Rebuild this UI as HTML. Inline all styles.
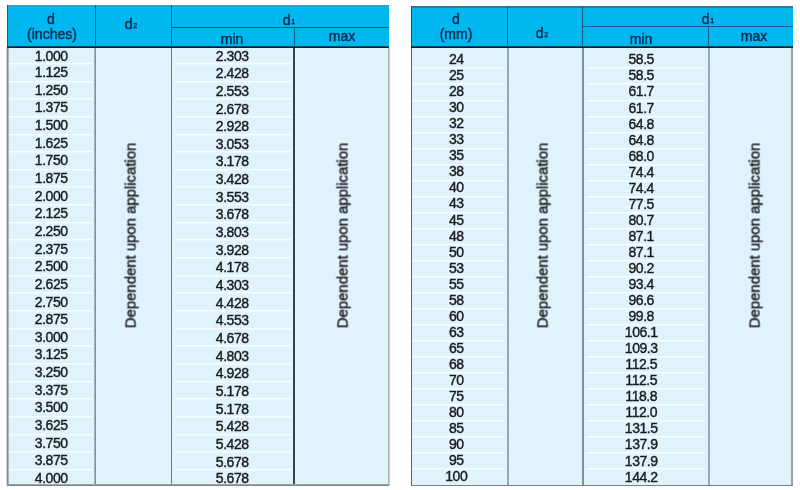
<!DOCTYPE html>
<html><head><meta charset="utf-8"><style>
html,body{margin:0;padding:0;background:#fff;width:800px;height:490px;overflow:hidden}
body{position:relative;font-family:'Liberation Sans', Arial, sans-serif}
div{position:absolute;box-sizing:border-box}
.t{will-change:transform;white-space:nowrap;text-align:center;line-height:1;-webkit-text-stroke:0.4px currentColor}
.h{-webkit-text-stroke:0.4px currentColor}
</style></head><body>
<div style="left:7px;top:5px;width:382px;height:42px;background:#01b7f0"></div>
<div style="left:7px;top:5px;width:382px;height:1px;background:#5f8fa3"></div>
<div style="left:7px;top:48px;width:382px;height:437px;background:#e0f3fd"></div>
<div style="left:9px;top:63px;width:84px;height:1px;background:#fbfeff"></div>
<div style="left:175px;top:63px;width:116px;height:1px;background:#fbfeff"></div>
<div style="left:9px;top:64px;width:84px;height:1px;background:#ebf7fe"></div>
<div style="left:175px;top:64px;width:116px;height:1px;background:#ebf7fe"></div>
<div style="left:9px;top:81px;width:84px;height:1px;background:#fbfeff"></div>
<div style="left:175px;top:81px;width:116px;height:1px;background:#fbfeff"></div>
<div style="left:9px;top:82px;width:84px;height:1px;background:#ebf7fe"></div>
<div style="left:175px;top:82px;width:116px;height:1px;background:#ebf7fe"></div>
<div style="left:9px;top:98px;width:84px;height:1px;background:#fbfeff"></div>
<div style="left:175px;top:98px;width:116px;height:1px;background:#fbfeff"></div>
<div style="left:9px;top:99px;width:84px;height:1px;background:#ebf7fe"></div>
<div style="left:175px;top:99px;width:116px;height:1px;background:#ebf7fe"></div>
<div style="left:9px;top:116px;width:84px;height:1px;background:#fbfeff"></div>
<div style="left:175px;top:116px;width:116px;height:1px;background:#fbfeff"></div>
<div style="left:9px;top:117px;width:84px;height:1px;background:#ebf7fe"></div>
<div style="left:175px;top:117px;width:116px;height:1px;background:#ebf7fe"></div>
<div style="left:9px;top:134px;width:84px;height:1px;background:#fbfeff"></div>
<div style="left:175px;top:134px;width:116px;height:1px;background:#fbfeff"></div>
<div style="left:9px;top:135px;width:84px;height:1px;background:#ebf7fe"></div>
<div style="left:175px;top:135px;width:116px;height:1px;background:#ebf7fe"></div>
<div style="left:9px;top:151px;width:84px;height:1px;background:#fbfeff"></div>
<div style="left:175px;top:151px;width:116px;height:1px;background:#fbfeff"></div>
<div style="left:9px;top:152px;width:84px;height:1px;background:#ebf7fe"></div>
<div style="left:175px;top:152px;width:116px;height:1px;background:#ebf7fe"></div>
<div style="left:9px;top:169px;width:84px;height:1px;background:#fbfeff"></div>
<div style="left:175px;top:169px;width:116px;height:1px;background:#fbfeff"></div>
<div style="left:9px;top:170px;width:84px;height:1px;background:#ebf7fe"></div>
<div style="left:175px;top:170px;width:116px;height:1px;background:#ebf7fe"></div>
<div style="left:9px;top:186px;width:84px;height:1px;background:#fbfeff"></div>
<div style="left:175px;top:186px;width:116px;height:1px;background:#fbfeff"></div>
<div style="left:9px;top:187px;width:84px;height:1px;background:#ebf7fe"></div>
<div style="left:175px;top:187px;width:116px;height:1px;background:#ebf7fe"></div>
<div style="left:9px;top:204px;width:84px;height:1px;background:#fbfeff"></div>
<div style="left:175px;top:204px;width:116px;height:1px;background:#fbfeff"></div>
<div style="left:9px;top:205px;width:84px;height:1px;background:#ebf7fe"></div>
<div style="left:175px;top:205px;width:116px;height:1px;background:#ebf7fe"></div>
<div style="left:9px;top:222px;width:84px;height:1px;background:#fbfeff"></div>
<div style="left:175px;top:222px;width:116px;height:1px;background:#fbfeff"></div>
<div style="left:9px;top:223px;width:84px;height:1px;background:#ebf7fe"></div>
<div style="left:175px;top:223px;width:116px;height:1px;background:#ebf7fe"></div>
<div style="left:9px;top:239px;width:84px;height:1px;background:#fbfeff"></div>
<div style="left:175px;top:239px;width:116px;height:1px;background:#fbfeff"></div>
<div style="left:9px;top:240px;width:84px;height:1px;background:#ebf7fe"></div>
<div style="left:175px;top:240px;width:116px;height:1px;background:#ebf7fe"></div>
<div style="left:9px;top:257px;width:84px;height:1px;background:#fbfeff"></div>
<div style="left:175px;top:257px;width:116px;height:1px;background:#fbfeff"></div>
<div style="left:9px;top:258px;width:84px;height:1px;background:#ebf7fe"></div>
<div style="left:175px;top:258px;width:116px;height:1px;background:#ebf7fe"></div>
<div style="left:9px;top:275px;width:84px;height:1px;background:#fbfeff"></div>
<div style="left:175px;top:275px;width:116px;height:1px;background:#fbfeff"></div>
<div style="left:9px;top:276px;width:84px;height:1px;background:#ebf7fe"></div>
<div style="left:175px;top:276px;width:116px;height:1px;background:#ebf7fe"></div>
<div style="left:9px;top:292px;width:84px;height:1px;background:#fbfeff"></div>
<div style="left:175px;top:292px;width:116px;height:1px;background:#fbfeff"></div>
<div style="left:9px;top:293px;width:84px;height:1px;background:#ebf7fe"></div>
<div style="left:175px;top:293px;width:116px;height:1px;background:#ebf7fe"></div>
<div style="left:9px;top:310px;width:84px;height:1px;background:#fbfeff"></div>
<div style="left:175px;top:310px;width:116px;height:1px;background:#fbfeff"></div>
<div style="left:9px;top:311px;width:84px;height:1px;background:#ebf7fe"></div>
<div style="left:175px;top:311px;width:116px;height:1px;background:#ebf7fe"></div>
<div style="left:9px;top:328px;width:84px;height:1px;background:#fbfeff"></div>
<div style="left:175px;top:328px;width:116px;height:1px;background:#fbfeff"></div>
<div style="left:9px;top:329px;width:84px;height:1px;background:#ebf7fe"></div>
<div style="left:175px;top:329px;width:116px;height:1px;background:#ebf7fe"></div>
<div style="left:9px;top:345px;width:84px;height:1px;background:#fbfeff"></div>
<div style="left:175px;top:345px;width:116px;height:1px;background:#fbfeff"></div>
<div style="left:9px;top:346px;width:84px;height:1px;background:#ebf7fe"></div>
<div style="left:175px;top:346px;width:116px;height:1px;background:#ebf7fe"></div>
<div style="left:9px;top:363px;width:84px;height:1px;background:#fbfeff"></div>
<div style="left:175px;top:363px;width:116px;height:1px;background:#fbfeff"></div>
<div style="left:9px;top:364px;width:84px;height:1px;background:#ebf7fe"></div>
<div style="left:175px;top:364px;width:116px;height:1px;background:#ebf7fe"></div>
<div style="left:9px;top:381px;width:84px;height:1px;background:#fbfeff"></div>
<div style="left:175px;top:381px;width:116px;height:1px;background:#fbfeff"></div>
<div style="left:9px;top:382px;width:84px;height:1px;background:#ebf7fe"></div>
<div style="left:175px;top:382px;width:116px;height:1px;background:#ebf7fe"></div>
<div style="left:9px;top:398px;width:84px;height:1px;background:#fbfeff"></div>
<div style="left:175px;top:398px;width:116px;height:1px;background:#fbfeff"></div>
<div style="left:9px;top:399px;width:84px;height:1px;background:#ebf7fe"></div>
<div style="left:175px;top:399px;width:116px;height:1px;background:#ebf7fe"></div>
<div style="left:9px;top:416px;width:84px;height:1px;background:#fbfeff"></div>
<div style="left:175px;top:416px;width:116px;height:1px;background:#fbfeff"></div>
<div style="left:9px;top:417px;width:84px;height:1px;background:#ebf7fe"></div>
<div style="left:175px;top:417px;width:116px;height:1px;background:#ebf7fe"></div>
<div style="left:9px;top:434px;width:84px;height:1px;background:#fbfeff"></div>
<div style="left:175px;top:434px;width:116px;height:1px;background:#fbfeff"></div>
<div style="left:9px;top:435px;width:84px;height:1px;background:#ebf7fe"></div>
<div style="left:175px;top:435px;width:116px;height:1px;background:#ebf7fe"></div>
<div style="left:9px;top:451px;width:84px;height:1px;background:#fbfeff"></div>
<div style="left:175px;top:451px;width:116px;height:1px;background:#fbfeff"></div>
<div style="left:9px;top:452px;width:84px;height:1px;background:#ebf7fe"></div>
<div style="left:175px;top:452px;width:116px;height:1px;background:#ebf7fe"></div>
<div style="left:9px;top:469px;width:84px;height:1px;background:#fbfeff"></div>
<div style="left:175px;top:469px;width:116px;height:1px;background:#fbfeff"></div>
<div style="left:9px;top:470px;width:84px;height:1px;background:#ebf7fe"></div>
<div style="left:175px;top:470px;width:116px;height:1px;background:#ebf7fe"></div>
<div style="left:7px;top:46px;width:382px;height:1px;background:#0a4a66"></div>
<div style="left:7px;top:47px;width:382px;height:1px;background:#0c1c24"></div>
<div style="left:171px;top:27px;width:218px;height:1px;background:#0b5a7c"></div>
<div style="left:95px;top:5px;width:1px;height:42px;background:#12607f"></div>
<div style="left:171px;top:5px;width:1px;height:42px;background:#12607f"></div>
<div style="left:294px;top:27px;width:1px;height:20px;background:#12607f"></div>
<div style="left:94px;top:48px;width:1px;height:437px;background:#a5b5c0"></div>
<div style="left:95px;top:48px;width:1px;height:437px;background:#7f929e"></div>
<div style="left:171px;top:48px;width:1px;height:437px;background:#66798a"></div>
<div style="left:293px;top:48px;width:2px;height:437px;background:#3d454d"></div>
<div style="left:6px;top:48px;width:1px;height:438px;background:#d3d8db"></div>
<div style="left:7px;top:48px;width:1px;height:438px;background:#7f8a91"></div>
<div style="left:8px;top:48px;width:1px;height:438px;background:#abb5bb"></div>
<div style="left:7px;top:5px;width:1px;height:41px;background:#2a5a70"></div>
<div style="left:388px;top:48px;width:1px;height:438px;background:#a7b0b6"></div>
<div style="left:389px;top:48px;width:1px;height:438px;background:#c4cacd"></div>
<div style="left:7px;top:484px;width:382px;height:1px;background:#9aa3a9"></div>
<div style="left:7px;top:485px;width:382px;height:1px;background:#7c868d"></div>
<div class="t h" style="left:-8.70px;top:11.95px;width:120px;font-size:14px;color:#0a2a50;">d</div>
<div class="t h" style="left:-8.40px;top:26.65px;width:120px;font-size:14px;color:#0a2a50;">(inches)</div>
<div class="t h" style="left:101.20px;top:16.95px;width:60px;font-size:14px;color:#0a2a50">d<span style="font-size:7px;position:relative;top:-0.7px;margin-left:0.6px">2</span></div>
<div class="t h" style="left:258.50px;top:12.95px;width:60px;font-size:14px;color:#0a2a50">d<span style="font-size:7px;position:relative;top:-0.7px;margin-left:0.6px">1</span></div>
<div class="t h" style="left:171.90px;top:31.55px;width:120px;font-size:14px;color:#0a2a50;">min</div>
<div class="t h" style="left:281.80px;top:29.15px;width:120px;font-size:14px;color:#0a2a50;">max</div>
<div class="t" style="left:-8.80px;top:49.15px;width:120px;font-size:14px;color:#1a1a1a;letter-spacing:-0.45px;padding-left:0.45px;">1.000</div>
<div class="t" style="left:171.70px;top:48.95px;width:120px;font-size:14px;color:#1a1a1a;letter-spacing:-0.45px;padding-left:0.45px;">2.303</div>
<div class="t" style="left:-8.80px;top:65.06px;width:120px;font-size:14px;color:#1a1a1a;letter-spacing:-0.45px;padding-left:0.45px;">1.125</div>
<div class="t" style="left:171.70px;top:66.21px;width:120px;font-size:14px;color:#1a1a1a;letter-spacing:-0.45px;padding-left:0.45px;">2.428</div>
<div class="t" style="left:-8.80px;top:82.71px;width:120px;font-size:14px;color:#1a1a1a;letter-spacing:-0.45px;padding-left:0.45px;">1.250</div>
<div class="t" style="left:171.70px;top:83.86px;width:120px;font-size:14px;color:#1a1a1a;letter-spacing:-0.45px;padding-left:0.45px;">2.553</div>
<div class="t" style="left:-8.80px;top:100.37px;width:120px;font-size:14px;color:#1a1a1a;letter-spacing:-0.45px;padding-left:0.45px;">1.375</div>
<div class="t" style="left:171.70px;top:101.52px;width:120px;font-size:14px;color:#1a1a1a;letter-spacing:-0.45px;padding-left:0.45px;">2.678</div>
<div class="t" style="left:-8.80px;top:118.02px;width:120px;font-size:14px;color:#1a1a1a;letter-spacing:-0.45px;padding-left:0.45px;">1.500</div>
<div class="t" style="left:171.70px;top:119.17px;width:120px;font-size:14px;color:#1a1a1a;letter-spacing:-0.45px;padding-left:0.45px;">2.928</div>
<div class="t" style="left:-8.80px;top:135.67px;width:120px;font-size:14px;color:#1a1a1a;letter-spacing:-0.45px;padding-left:0.45px;">1.625</div>
<div class="t" style="left:171.70px;top:136.82px;width:120px;font-size:14px;color:#1a1a1a;letter-spacing:-0.45px;padding-left:0.45px;">3.053</div>
<div class="t" style="left:-8.80px;top:153.32px;width:120px;font-size:14px;color:#1a1a1a;letter-spacing:-0.45px;padding-left:0.45px;">1.750</div>
<div class="t" style="left:171.70px;top:154.47px;width:120px;font-size:14px;color:#1a1a1a;letter-spacing:-0.45px;padding-left:0.45px;">3.178</div>
<div class="t" style="left:-8.80px;top:170.97px;width:120px;font-size:14px;color:#1a1a1a;letter-spacing:-0.45px;padding-left:0.45px;">1.875</div>
<div class="t" style="left:171.70px;top:172.12px;width:120px;font-size:14px;color:#1a1a1a;letter-spacing:-0.45px;padding-left:0.45px;">3.428</div>
<div class="t" style="left:-8.80px;top:188.62px;width:120px;font-size:14px;color:#1a1a1a;letter-spacing:-0.45px;padding-left:0.45px;">2.000</div>
<div class="t" style="left:171.70px;top:189.78px;width:120px;font-size:14px;color:#1a1a1a;letter-spacing:-0.45px;padding-left:0.45px;">3.553</div>
<div class="t" style="left:-8.80px;top:206.28px;width:120px;font-size:14px;color:#1a1a1a;letter-spacing:-0.45px;padding-left:0.45px;">2.125</div>
<div class="t" style="left:171.70px;top:207.43px;width:120px;font-size:14px;color:#1a1a1a;letter-spacing:-0.45px;padding-left:0.45px;">3.678</div>
<div class="t" style="left:-8.80px;top:223.93px;width:120px;font-size:14px;color:#1a1a1a;letter-spacing:-0.45px;padding-left:0.45px;">2.250</div>
<div class="t" style="left:171.70px;top:225.08px;width:120px;font-size:14px;color:#1a1a1a;letter-spacing:-0.45px;padding-left:0.45px;">3.803</div>
<div class="t" style="left:-8.80px;top:241.58px;width:120px;font-size:14px;color:#1a1a1a;letter-spacing:-0.45px;padding-left:0.45px;">2.375</div>
<div class="t" style="left:171.70px;top:242.73px;width:120px;font-size:14px;color:#1a1a1a;letter-spacing:-0.45px;padding-left:0.45px;">3.928</div>
<div class="t" style="left:-8.80px;top:259.23px;width:120px;font-size:14px;color:#1a1a1a;letter-spacing:-0.45px;padding-left:0.45px;">2.500</div>
<div class="t" style="left:171.70px;top:260.38px;width:120px;font-size:14px;color:#1a1a1a;letter-spacing:-0.45px;padding-left:0.45px;">4.178</div>
<div class="t" style="left:-8.80px;top:276.88px;width:120px;font-size:14px;color:#1a1a1a;letter-spacing:-0.45px;padding-left:0.45px;">2.625</div>
<div class="t" style="left:171.70px;top:278.03px;width:120px;font-size:14px;color:#1a1a1a;letter-spacing:-0.45px;padding-left:0.45px;">4.303</div>
<div class="t" style="left:-8.80px;top:294.54px;width:120px;font-size:14px;color:#1a1a1a;letter-spacing:-0.45px;padding-left:0.45px;">2.750</div>
<div class="t" style="left:171.70px;top:295.69px;width:120px;font-size:14px;color:#1a1a1a;letter-spacing:-0.45px;padding-left:0.45px;">4.428</div>
<div class="t" style="left:-8.80px;top:312.19px;width:120px;font-size:14px;color:#1a1a1a;letter-spacing:-0.45px;padding-left:0.45px;">2.875</div>
<div class="t" style="left:171.70px;top:313.34px;width:120px;font-size:14px;color:#1a1a1a;letter-spacing:-0.45px;padding-left:0.45px;">4.553</div>
<div class="t" style="left:-8.80px;top:329.84px;width:120px;font-size:14px;color:#1a1a1a;letter-spacing:-0.45px;padding-left:0.45px;">3.000</div>
<div class="t" style="left:171.70px;top:330.99px;width:120px;font-size:14px;color:#1a1a1a;letter-spacing:-0.45px;padding-left:0.45px;">4.678</div>
<div class="t" style="left:-8.80px;top:347.49px;width:120px;font-size:14px;color:#1a1a1a;letter-spacing:-0.45px;padding-left:0.45px;">3.125</div>
<div class="t" style="left:171.70px;top:348.64px;width:120px;font-size:14px;color:#1a1a1a;letter-spacing:-0.45px;padding-left:0.45px;">4.803</div>
<div class="t" style="left:-8.80px;top:365.14px;width:120px;font-size:14px;color:#1a1a1a;letter-spacing:-0.45px;padding-left:0.45px;">3.250</div>
<div class="t" style="left:171.70px;top:366.29px;width:120px;font-size:14px;color:#1a1a1a;letter-spacing:-0.45px;padding-left:0.45px;">4.928</div>
<div class="t" style="left:-8.80px;top:382.80px;width:120px;font-size:14px;color:#1a1a1a;letter-spacing:-0.45px;padding-left:0.45px;">3.375</div>
<div class="t" style="left:171.70px;top:383.95px;width:120px;font-size:14px;color:#1a1a1a;letter-spacing:-0.45px;padding-left:0.45px;">5.178</div>
<div class="t" style="left:-8.80px;top:400.45px;width:120px;font-size:14px;color:#1a1a1a;letter-spacing:-0.45px;padding-left:0.45px;">3.500</div>
<div class="t" style="left:171.70px;top:401.60px;width:120px;font-size:14px;color:#1a1a1a;letter-spacing:-0.45px;padding-left:0.45px;">5.178</div>
<div class="t" style="left:-8.80px;top:418.10px;width:120px;font-size:14px;color:#1a1a1a;letter-spacing:-0.45px;padding-left:0.45px;">3.625</div>
<div class="t" style="left:171.70px;top:419.25px;width:120px;font-size:14px;color:#1a1a1a;letter-spacing:-0.45px;padding-left:0.45px;">5.428</div>
<div class="t" style="left:-8.80px;top:435.75px;width:120px;font-size:14px;color:#1a1a1a;letter-spacing:-0.45px;padding-left:0.45px;">3.750</div>
<div class="t" style="left:171.70px;top:436.90px;width:120px;font-size:14px;color:#1a1a1a;letter-spacing:-0.45px;padding-left:0.45px;">5.428</div>
<div class="t" style="left:-8.80px;top:453.41px;width:120px;font-size:14px;color:#1a1a1a;letter-spacing:-0.45px;padding-left:0.45px;">3.875</div>
<div class="t" style="left:171.70px;top:454.56px;width:120px;font-size:14px;color:#1a1a1a;letter-spacing:-0.45px;padding-left:0.45px;">5.678</div>
<div class="t" style="left:-8.80px;top:471.06px;width:120px;font-size:14px;color:#1a1a1a;letter-spacing:-0.45px;padding-left:0.45px;">4.000</div>
<div class="t" style="left:171.70px;top:470.76px;width:120px;font-size:14px;color:#1a1a1a;letter-spacing:-0.45px;padding-left:0.45px;">5.678</div>
<div class="t" style="left:31.00px;top:228.05px;width:200px;height:14.9px;font-size:14.9px;color:#1a1a1a;transform:rotate(-90deg)">Dependent upon application</div>
<div class="t" style="left:242.50px;top:228.05px;width:200px;height:14.9px;font-size:14.9px;color:#1a1a1a;transform:rotate(-90deg)">Dependent upon application</div>
<div style="left:411px;top:6px;width:382px;height:41px;background:#01b7f0"></div>
<div style="left:411px;top:6px;width:382px;height:1px;background:#3d6f84"></div>
<div style="left:411px;top:7px;width:382px;height:1px;background:#2f7d9c"></div>
<div style="left:411px;top:48px;width:382px;height:437px;background:#e0f3fd"></div>
<div style="left:413px;top:67px;width:92px;height:1px;background:#fbfeff"></div>
<div style="left:586px;top:67px;width:119px;height:1px;background:#fbfeff"></div>
<div style="left:413px;top:68px;width:92px;height:1px;background:#ebf7fe"></div>
<div style="left:586px;top:68px;width:119px;height:1px;background:#ebf7fe"></div>
<div style="left:413px;top:83px;width:92px;height:1px;background:#fbfeff"></div>
<div style="left:586px;top:83px;width:119px;height:1px;background:#fbfeff"></div>
<div style="left:413px;top:84px;width:92px;height:1px;background:#ebf7fe"></div>
<div style="left:586px;top:84px;width:119px;height:1px;background:#ebf7fe"></div>
<div style="left:413px;top:100px;width:92px;height:1px;background:#fbfeff"></div>
<div style="left:586px;top:100px;width:119px;height:1px;background:#fbfeff"></div>
<div style="left:413px;top:101px;width:92px;height:1px;background:#ebf7fe"></div>
<div style="left:586px;top:101px;width:119px;height:1px;background:#ebf7fe"></div>
<div style="left:413px;top:116px;width:92px;height:1px;background:#fbfeff"></div>
<div style="left:586px;top:116px;width:119px;height:1px;background:#fbfeff"></div>
<div style="left:413px;top:117px;width:92px;height:1px;background:#ebf7fe"></div>
<div style="left:586px;top:117px;width:119px;height:1px;background:#ebf7fe"></div>
<div style="left:413px;top:132px;width:92px;height:1px;background:#fbfeff"></div>
<div style="left:586px;top:132px;width:119px;height:1px;background:#fbfeff"></div>
<div style="left:413px;top:133px;width:92px;height:1px;background:#ebf7fe"></div>
<div style="left:586px;top:133px;width:119px;height:1px;background:#ebf7fe"></div>
<div style="left:413px;top:148px;width:92px;height:1px;background:#fbfeff"></div>
<div style="left:586px;top:148px;width:119px;height:1px;background:#fbfeff"></div>
<div style="left:413px;top:149px;width:92px;height:1px;background:#ebf7fe"></div>
<div style="left:586px;top:149px;width:119px;height:1px;background:#ebf7fe"></div>
<div style="left:413px;top:164px;width:92px;height:1px;background:#fbfeff"></div>
<div style="left:586px;top:164px;width:119px;height:1px;background:#fbfeff"></div>
<div style="left:413px;top:165px;width:92px;height:1px;background:#ebf7fe"></div>
<div style="left:586px;top:165px;width:119px;height:1px;background:#ebf7fe"></div>
<div style="left:413px;top:180px;width:92px;height:1px;background:#fbfeff"></div>
<div style="left:586px;top:180px;width:119px;height:1px;background:#fbfeff"></div>
<div style="left:413px;top:181px;width:92px;height:1px;background:#ebf7fe"></div>
<div style="left:586px;top:181px;width:119px;height:1px;background:#ebf7fe"></div>
<div style="left:413px;top:196px;width:92px;height:1px;background:#fbfeff"></div>
<div style="left:586px;top:196px;width:119px;height:1px;background:#fbfeff"></div>
<div style="left:413px;top:197px;width:92px;height:1px;background:#ebf7fe"></div>
<div style="left:586px;top:197px;width:119px;height:1px;background:#ebf7fe"></div>
<div style="left:413px;top:212px;width:92px;height:1px;background:#fbfeff"></div>
<div style="left:586px;top:212px;width:119px;height:1px;background:#fbfeff"></div>
<div style="left:413px;top:213px;width:92px;height:1px;background:#ebf7fe"></div>
<div style="left:586px;top:213px;width:119px;height:1px;background:#ebf7fe"></div>
<div style="left:413px;top:228px;width:92px;height:1px;background:#fbfeff"></div>
<div style="left:586px;top:228px;width:119px;height:1px;background:#fbfeff"></div>
<div style="left:413px;top:229px;width:92px;height:1px;background:#ebf7fe"></div>
<div style="left:586px;top:229px;width:119px;height:1px;background:#ebf7fe"></div>
<div style="left:413px;top:244px;width:92px;height:1px;background:#fbfeff"></div>
<div style="left:586px;top:244px;width:119px;height:1px;background:#fbfeff"></div>
<div style="left:413px;top:245px;width:92px;height:1px;background:#ebf7fe"></div>
<div style="left:586px;top:245px;width:119px;height:1px;background:#ebf7fe"></div>
<div style="left:413px;top:260px;width:92px;height:1px;background:#fbfeff"></div>
<div style="left:586px;top:260px;width:119px;height:1px;background:#fbfeff"></div>
<div style="left:413px;top:261px;width:92px;height:1px;background:#ebf7fe"></div>
<div style="left:586px;top:261px;width:119px;height:1px;background:#ebf7fe"></div>
<div style="left:413px;top:276px;width:92px;height:1px;background:#fbfeff"></div>
<div style="left:586px;top:276px;width:119px;height:1px;background:#fbfeff"></div>
<div style="left:413px;top:277px;width:92px;height:1px;background:#ebf7fe"></div>
<div style="left:586px;top:277px;width:119px;height:1px;background:#ebf7fe"></div>
<div style="left:413px;top:292px;width:92px;height:1px;background:#fbfeff"></div>
<div style="left:586px;top:292px;width:119px;height:1px;background:#fbfeff"></div>
<div style="left:413px;top:293px;width:92px;height:1px;background:#ebf7fe"></div>
<div style="left:586px;top:293px;width:119px;height:1px;background:#ebf7fe"></div>
<div style="left:413px;top:308px;width:92px;height:1px;background:#fbfeff"></div>
<div style="left:586px;top:308px;width:119px;height:1px;background:#fbfeff"></div>
<div style="left:413px;top:309px;width:92px;height:1px;background:#ebf7fe"></div>
<div style="left:586px;top:309px;width:119px;height:1px;background:#ebf7fe"></div>
<div style="left:413px;top:324px;width:92px;height:1px;background:#fbfeff"></div>
<div style="left:586px;top:324px;width:119px;height:1px;background:#fbfeff"></div>
<div style="left:413px;top:325px;width:92px;height:1px;background:#ebf7fe"></div>
<div style="left:586px;top:325px;width:119px;height:1px;background:#ebf7fe"></div>
<div style="left:413px;top:340px;width:92px;height:1px;background:#fbfeff"></div>
<div style="left:586px;top:340px;width:119px;height:1px;background:#fbfeff"></div>
<div style="left:413px;top:341px;width:92px;height:1px;background:#ebf7fe"></div>
<div style="left:586px;top:341px;width:119px;height:1px;background:#ebf7fe"></div>
<div style="left:413px;top:356px;width:92px;height:1px;background:#fbfeff"></div>
<div style="left:586px;top:356px;width:119px;height:1px;background:#fbfeff"></div>
<div style="left:413px;top:357px;width:92px;height:1px;background:#ebf7fe"></div>
<div style="left:586px;top:357px;width:119px;height:1px;background:#ebf7fe"></div>
<div style="left:413px;top:372px;width:92px;height:1px;background:#fbfeff"></div>
<div style="left:586px;top:372px;width:119px;height:1px;background:#fbfeff"></div>
<div style="left:413px;top:373px;width:92px;height:1px;background:#ebf7fe"></div>
<div style="left:586px;top:373px;width:119px;height:1px;background:#ebf7fe"></div>
<div style="left:413px;top:388px;width:92px;height:1px;background:#fbfeff"></div>
<div style="left:586px;top:388px;width:119px;height:1px;background:#fbfeff"></div>
<div style="left:413px;top:389px;width:92px;height:1px;background:#ebf7fe"></div>
<div style="left:586px;top:389px;width:119px;height:1px;background:#ebf7fe"></div>
<div style="left:413px;top:404px;width:92px;height:1px;background:#fbfeff"></div>
<div style="left:586px;top:404px;width:119px;height:1px;background:#fbfeff"></div>
<div style="left:413px;top:405px;width:92px;height:1px;background:#ebf7fe"></div>
<div style="left:586px;top:405px;width:119px;height:1px;background:#ebf7fe"></div>
<div style="left:413px;top:420px;width:92px;height:1px;background:#fbfeff"></div>
<div style="left:586px;top:420px;width:119px;height:1px;background:#fbfeff"></div>
<div style="left:413px;top:421px;width:92px;height:1px;background:#ebf7fe"></div>
<div style="left:586px;top:421px;width:119px;height:1px;background:#ebf7fe"></div>
<div style="left:413px;top:436px;width:92px;height:1px;background:#fbfeff"></div>
<div style="left:586px;top:436px;width:119px;height:1px;background:#fbfeff"></div>
<div style="left:413px;top:437px;width:92px;height:1px;background:#ebf7fe"></div>
<div style="left:586px;top:437px;width:119px;height:1px;background:#ebf7fe"></div>
<div style="left:413px;top:452px;width:92px;height:1px;background:#fbfeff"></div>
<div style="left:586px;top:452px;width:119px;height:1px;background:#fbfeff"></div>
<div style="left:413px;top:453px;width:92px;height:1px;background:#ebf7fe"></div>
<div style="left:586px;top:453px;width:119px;height:1px;background:#ebf7fe"></div>
<div style="left:413px;top:468px;width:92px;height:1px;background:#fbfeff"></div>
<div style="left:586px;top:468px;width:119px;height:1px;background:#fbfeff"></div>
<div style="left:413px;top:469px;width:92px;height:1px;background:#ebf7fe"></div>
<div style="left:586px;top:469px;width:119px;height:1px;background:#ebf7fe"></div>
<div style="left:411px;top:46px;width:382px;height:1px;background:#0a4a66"></div>
<div style="left:411px;top:47px;width:382px;height:1px;background:#0c1c24"></div>
<div style="left:582px;top:26px;width:211px;height:1px;background:#0b5a7c"></div>
<div style="left:507px;top:6px;width:1px;height:41px;background:#12607f"></div>
<div style="left:582px;top:6px;width:1px;height:41px;background:#12607f"></div>
<div style="left:708px;top:26px;width:1px;height:21px;background:#12607f"></div>
<div style="left:507px;top:48px;width:2px;height:437px;background:#93a9b8"></div>
<div style="left:582px;top:48px;width:2px;height:437px;background:#7a91a1"></div>
<div style="left:708px;top:48px;width:2px;height:437px;background:#96aaba"></div>
<div style="left:411px;top:48px;width:1px;height:438px;background:#5a6268"></div>
<div style="left:411px;top:6px;width:1px;height:40px;background:#2a4a5a"></div>
<div style="left:791px;top:48px;width:2px;height:438px;background:#9aa3aa"></div>
<div style="left:411px;top:485px;width:382px;height:1px;background:#76828a"></div>
<div class="t h" style="left:396.20px;top:11.55px;width:120px;font-size:14px;color:#0a2a50;">d</div>
<div class="t h" style="left:395.90px;top:26.65px;width:120px;font-size:14px;color:#0a2a50;">(mm)</div>
<div class="t h" style="left:512.30px;top:25.65px;width:60px;font-size:14px;color:#0a2a50">d<span style="font-size:7px;position:relative;top:-0.7px;margin-left:0.6px">2</span></div>
<div class="t h" style="left:678.10px;top:11.65px;width:60px;font-size:14px;color:#0a2a50">d<span style="font-size:7px;position:relative;top:-0.7px;margin-left:0.6px">1</span></div>
<div class="t h" style="left:580.80px;top:31.85px;width:120px;font-size:14px;color:#0a2a50;">min</div>
<div class="t h" style="left:694.10px;top:29.35px;width:120px;font-size:14px;color:#0a2a50;">max</div>
<div class="t" style="left:396.20px;top:52.05px;width:120px;font-size:14px;color:#1a1a1a;letter-spacing:-0.45px;padding-left:0.45px;">24</div>
<div class="t" style="left:581.20px;top:52.40px;width:120px;font-size:14px;color:#1a1a1a;letter-spacing:-0.45px;padding-left:0.45px;">58.5</div>
<div class="t" style="left:396.20px;top:68.09px;width:120px;font-size:14px;color:#1a1a1a;letter-spacing:-0.45px;padding-left:0.45px;">25</div>
<div class="t" style="left:581.20px;top:68.44px;width:120px;font-size:14px;color:#1a1a1a;letter-spacing:-0.45px;padding-left:0.45px;">58.5</div>
<div class="t" style="left:396.20px;top:84.14px;width:120px;font-size:14px;color:#1a1a1a;letter-spacing:-0.45px;padding-left:0.45px;">28</div>
<div class="t" style="left:581.20px;top:84.49px;width:120px;font-size:14px;color:#1a1a1a;letter-spacing:-0.45px;padding-left:0.45px;">61.7</div>
<div class="t" style="left:396.20px;top:100.18px;width:120px;font-size:14px;color:#1a1a1a;letter-spacing:-0.45px;padding-left:0.45px;">30</div>
<div class="t" style="left:581.20px;top:100.53px;width:120px;font-size:14px;color:#1a1a1a;letter-spacing:-0.45px;padding-left:0.45px;">61.7</div>
<div class="t" style="left:396.20px;top:116.23px;width:120px;font-size:14px;color:#1a1a1a;letter-spacing:-0.45px;padding-left:0.45px;">32</div>
<div class="t" style="left:581.20px;top:116.58px;width:120px;font-size:14px;color:#1a1a1a;letter-spacing:-0.45px;padding-left:0.45px;">64.8</div>
<div class="t" style="left:396.20px;top:132.27px;width:120px;font-size:14px;color:#1a1a1a;letter-spacing:-0.45px;padding-left:0.45px;">33</div>
<div class="t" style="left:581.20px;top:132.62px;width:120px;font-size:14px;color:#1a1a1a;letter-spacing:-0.45px;padding-left:0.45px;">64.8</div>
<div class="t" style="left:396.20px;top:148.32px;width:120px;font-size:14px;color:#1a1a1a;letter-spacing:-0.45px;padding-left:0.45px;">35</div>
<div class="t" style="left:581.20px;top:148.67px;width:120px;font-size:14px;color:#1a1a1a;letter-spacing:-0.45px;padding-left:0.45px;">68.0</div>
<div class="t" style="left:396.20px;top:164.36px;width:120px;font-size:14px;color:#1a1a1a;letter-spacing:-0.45px;padding-left:0.45px;">38</div>
<div class="t" style="left:581.20px;top:164.71px;width:120px;font-size:14px;color:#1a1a1a;letter-spacing:-0.45px;padding-left:0.45px;">74.4</div>
<div class="t" style="left:396.20px;top:180.41px;width:120px;font-size:14px;color:#1a1a1a;letter-spacing:-0.45px;padding-left:0.45px;">40</div>
<div class="t" style="left:581.20px;top:180.76px;width:120px;font-size:14px;color:#1a1a1a;letter-spacing:-0.45px;padding-left:0.45px;">74.4</div>
<div class="t" style="left:396.20px;top:196.45px;width:120px;font-size:14px;color:#1a1a1a;letter-spacing:-0.45px;padding-left:0.45px;">43</div>
<div class="t" style="left:581.20px;top:196.80px;width:120px;font-size:14px;color:#1a1a1a;letter-spacing:-0.45px;padding-left:0.45px;">77.5</div>
<div class="t" style="left:396.20px;top:212.50px;width:120px;font-size:14px;color:#1a1a1a;letter-spacing:-0.45px;padding-left:0.45px;">45</div>
<div class="t" style="left:581.20px;top:212.85px;width:120px;font-size:14px;color:#1a1a1a;letter-spacing:-0.45px;padding-left:0.45px;">80.7</div>
<div class="t" style="left:396.20px;top:228.54px;width:120px;font-size:14px;color:#1a1a1a;letter-spacing:-0.45px;padding-left:0.45px;">48</div>
<div class="t" style="left:581.20px;top:228.89px;width:120px;font-size:14px;color:#1a1a1a;letter-spacing:-0.45px;padding-left:0.45px;">87.1</div>
<div class="t" style="left:396.20px;top:244.59px;width:120px;font-size:14px;color:#1a1a1a;letter-spacing:-0.45px;padding-left:0.45px;">50</div>
<div class="t" style="left:581.20px;top:244.94px;width:120px;font-size:14px;color:#1a1a1a;letter-spacing:-0.45px;padding-left:0.45px;">87.1</div>
<div class="t" style="left:396.20px;top:260.63px;width:120px;font-size:14px;color:#1a1a1a;letter-spacing:-0.45px;padding-left:0.45px;">53</div>
<div class="t" style="left:581.20px;top:260.98px;width:120px;font-size:14px;color:#1a1a1a;letter-spacing:-0.45px;padding-left:0.45px;">90.2</div>
<div class="t" style="left:396.20px;top:276.68px;width:120px;font-size:14px;color:#1a1a1a;letter-spacing:-0.45px;padding-left:0.45px;">55</div>
<div class="t" style="left:581.20px;top:277.03px;width:120px;font-size:14px;color:#1a1a1a;letter-spacing:-0.45px;padding-left:0.45px;">93.4</div>
<div class="t" style="left:396.20px;top:292.72px;width:120px;font-size:14px;color:#1a1a1a;letter-spacing:-0.45px;padding-left:0.45px;">58</div>
<div class="t" style="left:581.20px;top:293.07px;width:120px;font-size:14px;color:#1a1a1a;letter-spacing:-0.45px;padding-left:0.45px;">96.6</div>
<div class="t" style="left:396.20px;top:308.77px;width:120px;font-size:14px;color:#1a1a1a;letter-spacing:-0.45px;padding-left:0.45px;">60</div>
<div class="t" style="left:581.20px;top:309.12px;width:120px;font-size:14px;color:#1a1a1a;letter-spacing:-0.45px;padding-left:0.45px;">99.8</div>
<div class="t" style="left:396.20px;top:324.81px;width:120px;font-size:14px;color:#1a1a1a;letter-spacing:-0.45px;padding-left:0.45px;">63</div>
<div class="t" style="left:581.20px;top:325.16px;width:120px;font-size:14px;color:#1a1a1a;letter-spacing:-0.45px;padding-left:0.45px;">106.1</div>
<div class="t" style="left:396.20px;top:340.86px;width:120px;font-size:14px;color:#1a1a1a;letter-spacing:-0.45px;padding-left:0.45px;">65</div>
<div class="t" style="left:581.20px;top:341.21px;width:120px;font-size:14px;color:#1a1a1a;letter-spacing:-0.45px;padding-left:0.45px;">109.3</div>
<div class="t" style="left:396.20px;top:356.90px;width:120px;font-size:14px;color:#1a1a1a;letter-spacing:-0.45px;padding-left:0.45px;">68</div>
<div class="t" style="left:581.20px;top:357.25px;width:120px;font-size:14px;color:#1a1a1a;letter-spacing:-0.45px;padding-left:0.45px;">112.5</div>
<div class="t" style="left:396.20px;top:372.95px;width:120px;font-size:14px;color:#1a1a1a;letter-spacing:-0.45px;padding-left:0.45px;">70</div>
<div class="t" style="left:581.20px;top:373.30px;width:120px;font-size:14px;color:#1a1a1a;letter-spacing:-0.45px;padding-left:0.45px;">112.5</div>
<div class="t" style="left:396.20px;top:388.99px;width:120px;font-size:14px;color:#1a1a1a;letter-spacing:-0.45px;padding-left:0.45px;">75</div>
<div class="t" style="left:581.20px;top:389.34px;width:120px;font-size:14px;color:#1a1a1a;letter-spacing:-0.45px;padding-left:0.45px;">118.8</div>
<div class="t" style="left:396.20px;top:405.04px;width:120px;font-size:14px;color:#1a1a1a;letter-spacing:-0.45px;padding-left:0.45px;">80</div>
<div class="t" style="left:581.20px;top:405.39px;width:120px;font-size:14px;color:#1a1a1a;letter-spacing:-0.45px;padding-left:0.45px;">112.0</div>
<div class="t" style="left:396.20px;top:421.08px;width:120px;font-size:14px;color:#1a1a1a;letter-spacing:-0.45px;padding-left:0.45px;">85</div>
<div class="t" style="left:581.20px;top:421.43px;width:120px;font-size:14px;color:#1a1a1a;letter-spacing:-0.45px;padding-left:0.45px;">131.5</div>
<div class="t" style="left:396.20px;top:437.13px;width:120px;font-size:14px;color:#1a1a1a;letter-spacing:-0.45px;padding-left:0.45px;">90</div>
<div class="t" style="left:581.20px;top:437.48px;width:120px;font-size:14px;color:#1a1a1a;letter-spacing:-0.45px;padding-left:0.45px;">137.9</div>
<div class="t" style="left:396.20px;top:453.17px;width:120px;font-size:14px;color:#1a1a1a;letter-spacing:-0.45px;padding-left:0.45px;">95</div>
<div class="t" style="left:581.20px;top:453.52px;width:120px;font-size:14px;color:#1a1a1a;letter-spacing:-0.45px;padding-left:0.45px;">137.9</div>
<div class="t" style="left:396.20px;top:469.22px;width:120px;font-size:14px;color:#1a1a1a;letter-spacing:-0.45px;padding-left:0.45px;">100</div>
<div class="t" style="left:581.20px;top:469.57px;width:120px;font-size:14px;color:#1a1a1a;letter-spacing:-0.45px;padding-left:0.45px;">144.2</div>
<div class="t" style="left:443.20px;top:228.05px;width:200px;height:14.9px;font-size:14.9px;color:#1a1a1a;transform:rotate(-90deg)">Dependent upon application</div>
<div class="t" style="left:654.80px;top:228.05px;width:200px;height:14.9px;font-size:14.9px;color:#1a1a1a;transform:rotate(-90deg)">Dependent upon application</div>
</body></html>
